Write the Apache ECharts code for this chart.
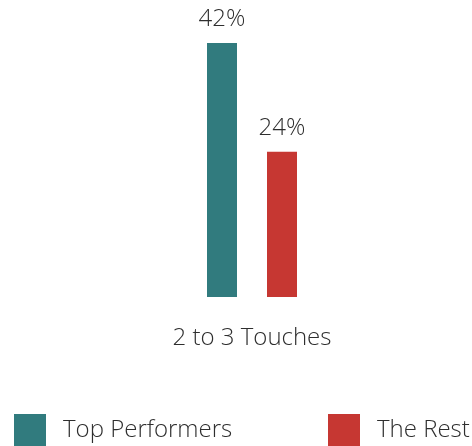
<!DOCTYPE html>
<html lang="en">
<head>
    <meta charset="UTF-8">
    <title>Touches</title>
    <script src="https://cdn.jsdelivr.net/npm/echarts@6/dist/echarts.min.js"></script>
    <style>
        html, body { margin: 0; padding: 0; background: #fff; }
        #chart { width: 472px; height: 446px; }
    </style>
</head>
<body>
<div id="chart"></div>
<script type="application/javascript">
    var categories = ['2 to 3 Touches'];
    var seriesNames = ['Top Performers', 'The Rest'];
    var topPerformers = [42];
    var theRest = [24];
    var colors = ['#317b7e', '#c63732'];

    var chart = echarts.init(document.getElementById('chart'));
    var textColor = '#2e2e2e';
    var font = '"Open Sans", sans-serif';

    function legendFor(name, left) {
        return {
            data: [name],
            left: left,
            top: 409,
            itemWidth: 32,
            itemHeight: 32,
            icon: 'rect',
            textStyle: {
                fontFamily: font,
                fontSize: 24,
                fontWeight: 300,
                color: textColor,
                padding: [0, 0, 0, 12]
            }
        };
    }

    function barLabel() {
        return {
            show: true,
            position: 'top',
            distance: 12,
            formatter: '{c}%',
            fontFamily: font,
            fontSize: 24,
            fontWeight: 300,
            color: textColor
        };
    }

    var option = {
        animation: false,
        grid: {
            left: 32,
            right: 0,
            top: 43,
            bottom: 149
        },
        legend: [legendFor(seriesNames[0], 9), legendFor(seriesNames[1], 323)],
        xAxis: {
            type: 'category',
            data: categories,
            axisLine: {show: false},
            axisTick: {show: false},
            axisLabel: {
                margin: 29,
                fontFamily: font,
                fontSize: 24,
                fontWeight: 300,
                color: textColor
            }
        },
        yAxis: {
            type: 'value',
            min: 0,
            max: 42,
            show: false
        },
        series: [{
            name: seriesNames[0],
            type: 'bar',
            data: topPerformers,
            barWidth: 30,
            barGap: '100%',
            itemStyle: {color: colors[0]},
            label: barLabel()
        }, {
            name: seriesNames[1],
            type: 'bar',
            data: theRest,
            barWidth: 30,
            itemStyle: {color: colors[1]},
            label: barLabel()
        }]
    };
    chart.setOption(option);
</script>
</body>
</html>
